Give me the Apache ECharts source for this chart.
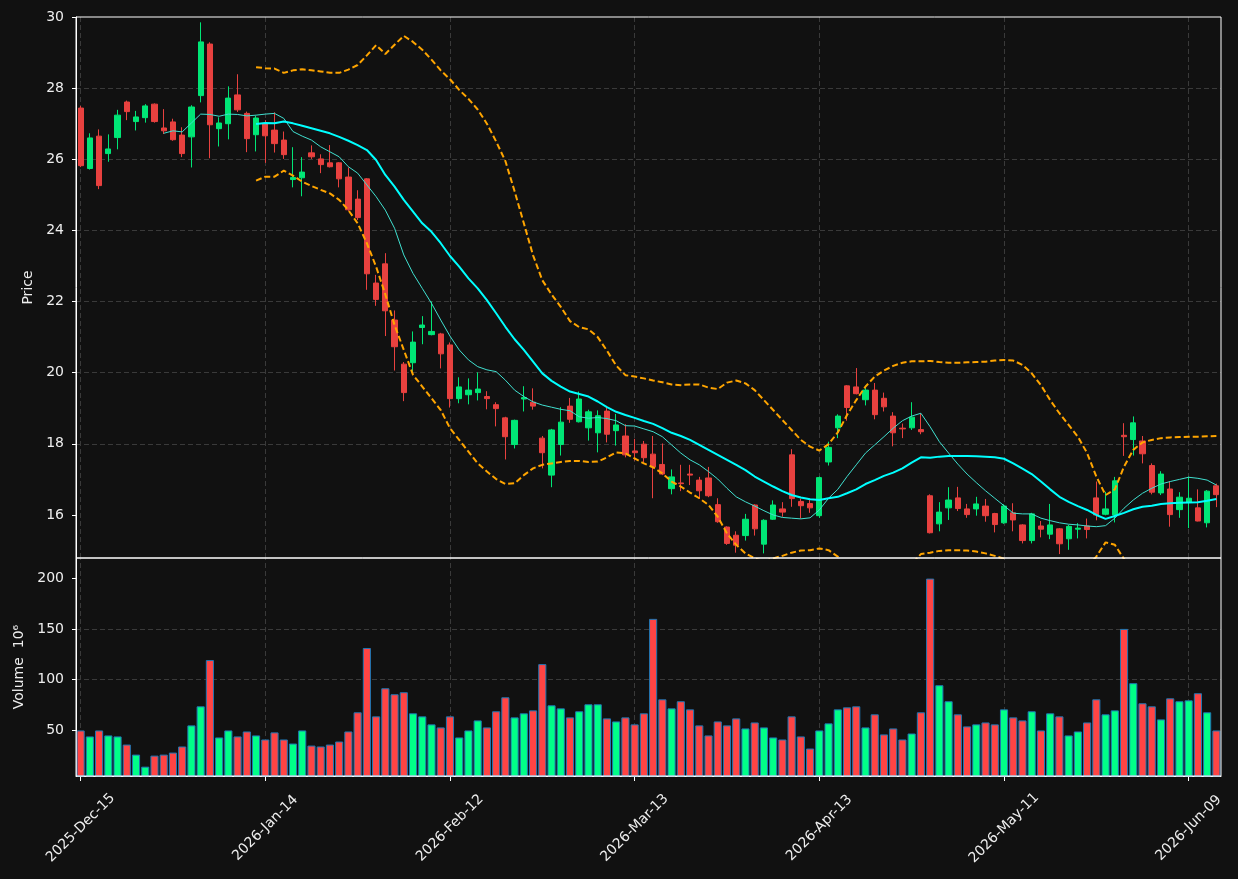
<!DOCTYPE html>
<html>
<head>
<meta charset="utf-8">
<script src="https://cdn.jsdelivr.net/npm/echarts@6/dist/echarts.min.js"></script>
<style>
html,body{margin:0;padding:0;background:#111111;}
#chart{width:1238px;height:879px;}
</style>
</head>
<body>
<div id="chart"></div>
<script>
// ---------------- data ----------------
const firstDate = '2025-12-15';
const holidays = ['2025-12-25','2026-01-01','2026-01-19','2026-02-16','2026-04-03','2026-05-25'];
const tickIdx = [0, 20, 40, 60, 80, 100, 120];
const priceTicks = [16, 18, 20, 22, 24, 26, 28, 30];
const volumeTicks = [50, 100, 150, 200];

const opens = [
27.44,25.74,26.65,26.16,26.61,27.61,27.06,27.17,27.55,26.88,
27.05,26.68,26.63,27.79,29.24,26.86,27.00,27.81,27.29,26.69,
27.01,26.82,26.54,25.43,25.48,26.18,26.01,25.90,25.90,25.50,
24.88,25.45,22.52,23.06,21.48,20.24,20.28,21.27,21.07,21.09,
20.78,19.27,19.38,19.44,19.33,19.10,18.73,17.98,19.26,19.17,
18.16,17.12,17.98,19.06,18.62,18.45,18.31,18.92,18.37,18.22,
17.80,17.99,17.71,17.42,16.74,16.90,17.15,16.98,17.04,16.29,
15.66,15.43,15.42,16.28,15.18,15.88,16.17,17.69,16.38,16.32,
15.98,17.49,18.45,19.63,19.60,19.24,19.51,19.28,18.78,18.44,
18.45,18.40,16.54,15.75,16.20,16.48,16.17,16.17,16.25,16.04,
15.78,16.06,15.72,15.28,15.69,15.46,15.61,15.33,15.60,15.69,
16.48,16.02,16.00,18.24,18.12,18.08,17.39,16.62,16.73,16.15,
16.35,16.20,15.78,16.82];
const closes = [
25.82,26.60,25.26,26.29,27.24,27.34,27.19,27.50,27.06,26.80,
26.55,26.16,27.47,29.30,26.97,27.02,27.72,27.39,26.58,27.16,
26.66,26.44,26.13,25.49,25.64,26.07,25.85,25.79,25.45,24.58,
24.36,22.78,22.06,21.74,20.73,19.44,20.86,21.34,21.16,20.53,
19.27,19.60,19.51,19.54,19.27,18.99,18.20,18.66,19.30,19.06,
17.75,18.39,18.61,18.69,19.26,18.90,18.79,18.27,18.53,17.69,
17.75,17.61,17.35,17.15,17.07,16.88,17.12,16.68,16.54,15.81,
15.20,15.15,15.88,15.61,15.85,16.28,16.08,16.46,16.26,16.20,
17.05,17.90,18.78,19.02,19.41,19.51,18.82,19.04,18.31,18.42,
18.75,18.34,15.50,16.08,16.42,16.18,16.01,16.31,15.98,15.73,
16.25,15.86,15.28,16.03,15.60,15.72,15.19,15.68,15.63,15.59,
16.00,16.17,16.96,18.20,18.59,17.72,16.64,17.15,16.01,16.50,
16.47,15.83,16.67,16.57];
const lows = [
25.78,25.71,25.16,25.93,26.28,27.10,26.81,27.03,27.03,26.71,
26.52,26.06,25.77,27.60,26.03,26.36,26.56,27.33,26.20,26.22,
25.90,26.19,26.01,25.21,24.96,26.01,25.61,25.77,25.21,24.55,
24.29,22.33,21.88,21.03,20.06,19.20,20.03,20.80,21.05,20.12,
19.02,19.14,19.11,19.22,18.97,18.49,17.56,17.87,18.91,18.96,
17.31,16.78,17.67,18.59,18.60,18.09,17.76,18.04,17.95,17.62,
17.53,17.49,16.47,17.12,16.58,16.67,16.84,16.45,16.50,15.78,
15.16,14.94,15.28,15.42,14.92,15.86,15.95,16.23,15.90,16.06,
15.92,17.39,18.16,18.65,19.39,19.08,18.69,18.91,17.93,18.16,
18.39,18.27,15.48,15.54,15.86,16.11,15.92,15.98,15.81,15.51,
15.75,15.54,15.20,15.20,15.37,15.32,14.90,15.02,15.34,15.34,
15.85,15.99,15.79,17.66,17.67,17.45,16.58,16.56,15.67,15.92,
15.63,15.82,15.65,16.22];
const highs = [
27.50,26.73,26.84,26.70,27.39,27.65,27.36,27.55,27.57,27.41,
27.14,26.90,27.52,29.85,29.29,27.18,28.05,28.39,27.34,27.22,
27.10,27.32,26.78,26.34,26.06,26.39,26.14,26.40,25.92,25.77,
25.13,25.47,22.75,23.36,21.75,20.30,21.16,21.59,22.00,21.12,
20.85,19.87,19.84,20.01,19.48,19.17,18.76,18.68,19.62,19.56,
18.22,18.42,19.03,19.29,19.47,18.96,18.94,19.03,18.84,18.55,
18.14,18.08,18.22,18.01,17.28,17.41,17.41,17.07,17.35,16.47,
15.68,15.54,16.03,16.30,15.88,16.41,16.36,17.85,16.46,16.42,
17.08,18.06,18.83,19.65,20.13,19.64,19.71,19.44,18.89,18.57,
19.17,18.86,16.58,16.36,16.78,16.79,16.31,16.51,16.45,16.06,
16.30,16.33,15.74,16.06,15.83,16.31,15.63,15.72,15.77,15.90,
16.94,16.65,17.07,18.58,18.77,18.22,17.45,17.23,16.95,16.64,
17.08,16.72,16.70,16.88];
const volumes = [
50.0,44.1,50.0,45.1,44.1,36.1,26.2,14.3,25.2,26.2,
28.2,34.2,55.0,73.8,119.4,43.1,50.0,44.1,49.0,45.1,
41.1,48.1,41.1,37.1,50.0,35.1,34.2,36.1,39.1,49.0,
67.9,131.3,63.9,91.6,85.7,87.7,66.9,63.9,56.0,53.0,
63.9,43.1,50.0,59.9,53.0,68.9,82.7,62.9,66.9,69.8,
115.4,74.8,71.8,62.9,68.9,75.8,75.8,61.9,58.9,62.9,
56.0,66.9,160.0,80.7,71.8,78.8,70.8,55.0,45.1,58.9,
55.0,61.9,52.0,57.9,53.0,43.1,41.1,63.9,44.1,32.2,
50.0,57.0,70.8,72.8,73.8,53.0,65.9,46.1,52.0,41.1,
47.0,67.9,199.7,94.6,78.8,65.9,54.0,56.0,57.9,56.0,
70.8,62.9,59.9,68.9,50.0,66.9,63.9,45.1,49.0,57.9,
80.7,65.9,69.8,150.1,96.6,76.8,73.8,60.9,81.7,78.8,
79.7,86.7,67.9,50.0];
const ma10 = [
null,null,null,null,null,null,null,null,null,26.73,
26.80,26.77,27.02,27.27,27.26,27.21,27.27,27.26,27.22,27.24,
27.27,27.29,27.15,26.78,26.65,26.54,26.35,26.21,26.07,25.79,
25.61,25.28,24.95,24.57,24.06,23.31,22.79,22.37,21.95,21.48,
21.03,20.64,20.36,20.17,20.08,20.03,19.79,19.51,19.33,19.18,
19.09,19.03,18.97,18.93,18.76,18.72,18.74,18.71,18.65,18.51,
18.50,18.42,18.34,18.20,17.97,17.74,17.55,17.41,17.22,17.01,
16.75,16.51,16.37,16.25,16.12,16.00,15.93,15.91,15.89,15.92,
16.14,16.47,16.72,17.08,17.41,17.74,17.97,18.20,18.44,18.65,
18.78,18.86,18.48,18.06,17.74,17.43,17.15,16.91,16.68,16.47,
16.26,16.05,16.03,16.03,15.91,15.84,15.78,15.74,15.72,15.69,
15.67,15.70,15.91,16.19,16.42,16.61,16.75,16.87,16.94,17.00,
17.06,17.03,16.98,16.84];
const ma20 = [
null,null,null,null,null,null,null,null,null,null,
null,null,null,null,null,null,null,null,null,26.99,
27.02,27.01,27.06,27.01,26.94,26.87,26.80,26.73,26.63,26.52,
26.40,26.26,25.98,25.56,25.23,24.86,24.53,24.20,23.96,23.64,
23.28,22.98,22.65,22.37,22.04,21.67,21.29,20.94,20.64,20.31,
19.98,19.77,19.61,19.47,19.40,19.33,19.19,19.03,18.90,18.81,
18.73,18.64,18.56,18.44,18.31,18.22,18.11,17.97,17.83,17.69,
17.55,17.41,17.26,17.08,16.94,16.80,16.67,16.56,16.49,16.44,
16.42,16.47,16.51,16.61,16.72,16.87,16.98,17.10,17.19,17.31,
17.47,17.62,17.61,17.64,17.66,17.66,17.66,17.65,17.64,17.62,
17.58,17.45,17.30,17.15,16.94,16.72,16.51,16.37,16.25,16.14,
16.00,15.89,15.97,16.06,16.16,16.23,16.26,16.31,16.33,16.34,
16.35,16.36,16.40,16.45];
const bbUpper = [
null,null,null,null,null,null,null,null,null,null,
null,null,null,null,null,null,null,null,null,28.59,
28.56,28.55,28.43,28.50,28.53,28.50,28.47,28.43,28.43,28.52,
28.65,28.92,29.21,28.96,29.22,29.47,29.30,29.08,28.80,28.50,
28.25,27.95,27.70,27.40,27.00,26.50,25.95,25.10,24.20,23.30,
22.60,22.20,21.85,21.45,21.28,21.22,21.00,20.62,20.20,19.93,
19.89,19.84,19.78,19.73,19.67,19.65,19.67,19.67,19.58,19.54,
19.72,19.78,19.70,19.51,19.23,18.95,18.67,18.39,18.11,17.92,
17.81,17.99,18.32,18.81,19.23,19.61,19.89,20.06,20.19,20.28,
20.32,20.32,20.33,20.30,20.28,20.28,20.29,20.30,20.31,20.34,
20.36,20.34,20.22,19.98,19.65,19.23,18.86,18.53,18.20,17.74,
17.08,16.56,16.72,17.36,17.83,18.04,18.11,18.16,18.18,18.19,
18.20,18.20,18.21,18.22];
const bbLower = [
null,null,null,null,null,null,null,null,null,null,
null,null,null,null,null,null,null,null,null,25.40,
25.51,25.51,25.68,25.54,25.37,25.25,25.14,25.04,24.86,24.57,
24.20,23.64,22.98,22.20,21.34,20.64,19.94,19.61,19.28,18.95,
18.44,18.11,17.78,17.45,17.22,17.01,16.87,16.89,17.12,17.31,
17.41,17.45,17.49,17.52,17.52,17.49,17.50,17.62,17.76,17.73,
17.59,17.45,17.34,17.17,16.94,16.80,16.63,16.47,16.28,15.95,
15.48,15.16,14.92,14.78,14.70,14.78,14.85,14.94,15.00,15.01,
15.06,15.01,14.83,14.41,14.21,14.13,14.07,14.14,14.19,14.34,
14.62,14.90,14.94,14.99,15.01,15.01,15.00,14.97,14.92,14.85,
14.77,14.56,14.38,14.32,14.23,14.21,14.16,14.21,14.30,14.54,
14.83,15.23,15.16,14.76,14.49,14.42,14.41,14.46,14.48,14.48,
14.50,14.52,14.59,14.68];

// ---------------- helpers ----------------
const MONTHS = ['Jan','Feb','Mar','Apr','May','Jun','Jul','Aug','Sep','Oct','Nov','Dec'];
function buildDates(start, n, skip) {
  const out = [];
  const d = new Date(start + 'T00:00:00Z');
  while (out.length < n) {
    const iso = d.toISOString().slice(0, 10);
    const wd = d.getUTCDay();
    if (wd !== 0 && wd !== 6 && skip.indexOf(iso) < 0) out.push(iso);
    d.setUTCDate(d.getUTCDate() + 1);
  }
  return out;
}
function fmtDate(iso) {
  const p = iso.split('-');
  return p[0] + '-' + MONTHS[+p[1] - 1] + '-' + p[2];
}
const dates = buildDates(firstDate, opens.length, holidays);
const isTick = (i) => tickIdx.indexOf(i) >= 0;

const UP = '#00e676', DOWN = '#e8413f';
const VUP = '#00ff88', VDOWN = '#ff4444';
const TXT = '#eeeeee';
const GRIDC = '#3a3a3a';
const FONT = 'DejaVu Sans';

const candleData = opens.map((o, i) => [o, closes[i], lows[i], highs[i]]);
const volData = volumes.map((v, i) => ({
  value: v,
  itemStyle: { color: closes[i] >= opens[i] ? VUP : VDOWN }
}));
const vLines = tickIdx.map(i => ({ xAxis: i }));

const chart = echarts.init(document.getElementById('chart'), null, { renderer: 'canvas' });
chart.setOption({
  animation: false,
  backgroundColor: '#111111',
  textStyle: { fontFamily: FONT },
  grid: [
    { left: 76, top: 17, width: 1145, height: 541, show: true, borderColor: '#ffffff', borderWidth: 1, backgroundColor: 'transparent', z: 5 },
    { left: 76, top: 558, width: 1145, height: 218, show: true, borderColor: '#ffffff', borderWidth: 1, backgroundColor: 'transparent', z: 5 }
  ],
  xAxis: [
    { type: 'category', gridIndex: 0, data: dates, boundaryGap: true,
      axisLine: { show: false }, axisTick: { show: false }, axisLabel: { show: false }, splitLine: { show: false } },
    { type: 'category', gridIndex: 1, data: dates, boundaryGap: true,
      axisLine: { show: true, lineStyle: { color: '#ffffff' } },
      axisTick: { show: true, alignWithLabel: true, interval: (i) => isTick(i), length: 5, lineStyle: { color: '#ffffff' } },
      axisLabel: { show: true, interval: (i) => isTick(i), rotate: 45, align: 'center', verticalAlign: 'middle',
                   margin: 52, color: TXT, fontSize: 14, fontFamily: FONT, formatter: (v) => fmtDate(v) },
      splitLine: { show: false } }
  ],
  yAxis: [
    { type: 'value', gridIndex: 0, min: 14.79, max: 30, minInterval: 2, maxInterval: 2, splitNumber: 7,
      axisLine: { show: true, lineStyle: { color: '#ffffff' } },
      axisTick: { show: true, length: 4, lineStyle: { color: '#ffffff' }, customValues: priceTicks },
      axisLabel: { color: TXT, fontSize: 14, margin: 12, fontFamily: FONT, customValues: priceTicks },
      splitLine: { show: true, showMinLine: false, showMaxLine: false, lineStyle: { color: GRIDC, type: [5, 3], width: 1 } },
      name: 'Price', nameLocation: 'middle', nameGap: 37, nameRotate: 90,
      nameTextStyle: { color: TXT, fontSize: 14, fontFamily: FONT } },
    { type: 'value', gridIndex: 1, min: 5.1, max: 220, minInterval: 50, maxInterval: 50, splitNumber: 4,
      axisLine: { show: true, lineStyle: { color: '#ffffff' } },
      axisTick: { show: true, length: 4, lineStyle: { color: '#ffffff' }, customValues: volumeTicks },
      axisLabel: { color: TXT, fontSize: 14, margin: 12, fontFamily: FONT, customValues: volumeTicks },
      splitLine: { show: true, showMinLine: false, showMaxLine: false, lineStyle: { color: GRIDC, type: [5, 3], width: 1 } },
      name: 'Volume  10\u2076', nameLocation: 'middle', nameGap: 49, nameRotate: 90,
      nameTextStyle: { color: TXT, fontSize: 14, fontFamily: FONT } }
  ],
  series: [
    { type: 'line', xAxisIndex: 0, yAxisIndex: 0, data: dates.map(() => null), silent: true, z: 1,
      markLine: { z: 1, silent: true, symbol: 'none', label: { show: false }, animation: false,
                  lineStyle: { color: GRIDC, type: [5, 3], width: 1 }, data: vLines } },
    { type: 'line', xAxisIndex: 1, yAxisIndex: 1, data: dates.map(() => null), silent: true, z: 1,
      markLine: { z: 1, silent: true, symbol: 'none', label: { show: false }, animation: false,
                  lineStyle: { color: GRIDC, type: [5, 3], width: 1 }, data: vLines } },
    { name: 'OHLC', type: 'candlestick', xAxisIndex: 0, yAxisIndex: 0, data: candleData, barWidth: '62%', z: 3,
      itemStyle: { color: UP, color0: DOWN, borderColor: UP, borderColor0: DOWN, borderWidth: 1 } },
    { name: 'MA10', type: 'line', xAxisIndex: 0, yAxisIndex: 0, data: ma10, showSymbol: false, symbol: 'none', z: 4,
      lineStyle: { color: '#40e0d0', width: 1 } },
    { name: 'MA20', type: 'line', xAxisIndex: 0, yAxisIndex: 0, data: ma20, showSymbol: false, symbol: 'none', z: 4,
      lineStyle: { color: '#00ffff', width: 2 } },
    { name: 'BB upper', type: 'line', xAxisIndex: 0, yAxisIndex: 0, data: bbUpper, showSymbol: false, symbol: 'none', z: 4,
      lineStyle: { color: '#ffa500', width: 2, type: [6, 3] } },
    { name: 'BB lower', type: 'line', xAxisIndex: 0, yAxisIndex: 0, data: bbLower, showSymbol: false, symbol: 'none', z: 4,
      lineStyle: { color: '#ffa500', width: 2, type: [6, 3] } },
    { name: 'Volume', type: 'bar', xAxisIndex: 1, yAxisIndex: 1, data: volData, barWidth: '88%', z: 3,
      itemStyle: { borderColor: '#1f77b4', borderWidth: 1 } }
  ]
});
</script>
</body>
</html>
